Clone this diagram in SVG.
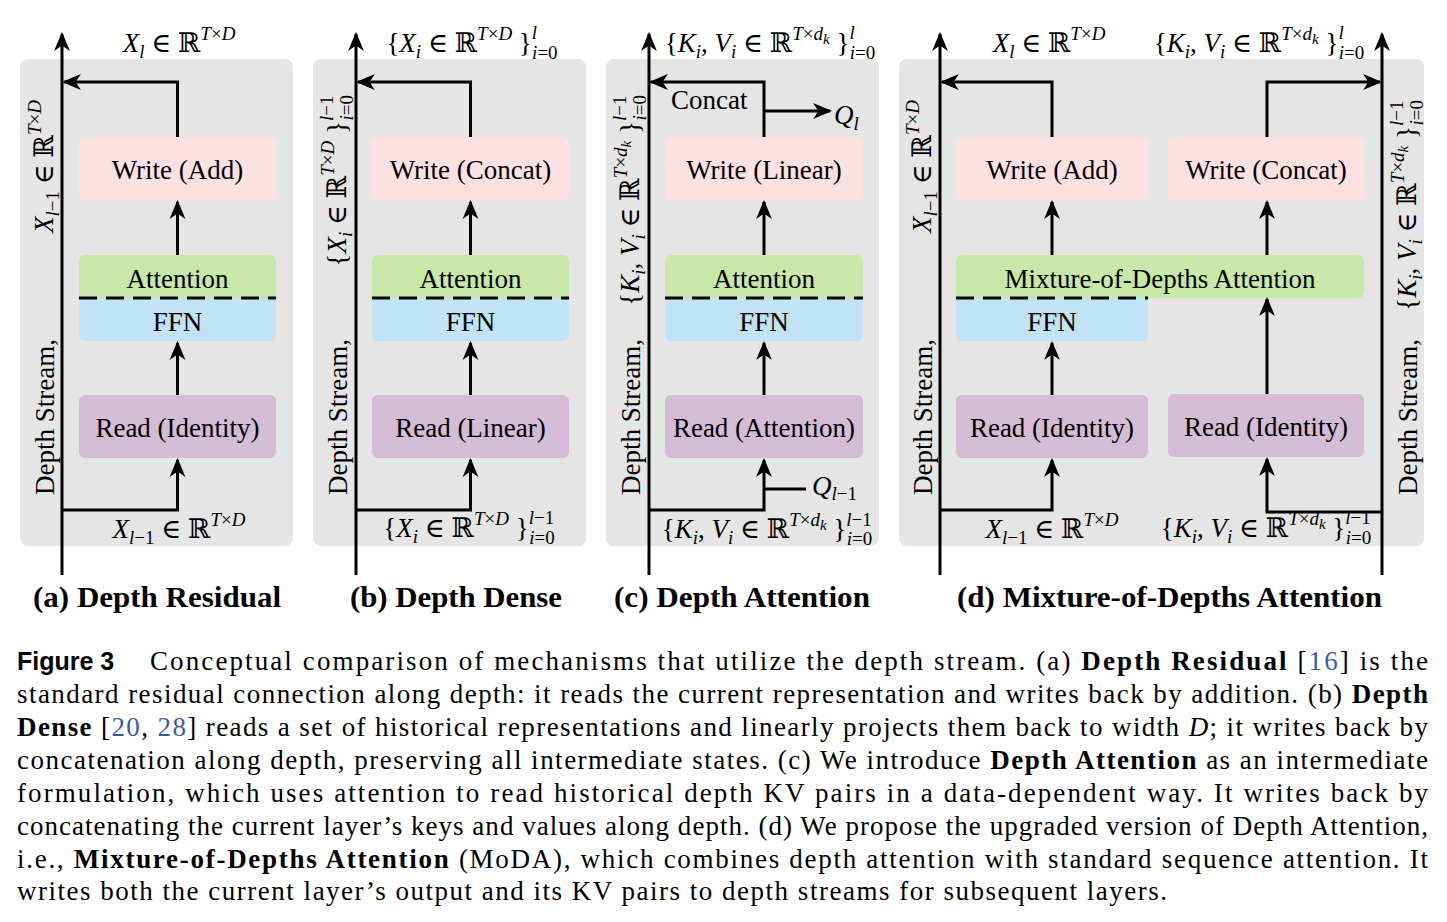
<svg xmlns="http://www.w3.org/2000/svg" width="1447" height="922" viewBox="0 0 1447 922">
<defs>
<style>
.bg{fill:#e5e5e5}
.pw{fill:#fde1e1}
.pa{fill:#c8e8a8}
.pf{fill:#c2e3f5}
.pr{fill:#d4bcd4}
.ln{stroke:#000;stroke-width:3;fill:none}
.dash{stroke:#000;stroke-width:3;stroke-dasharray:18 9;fill:none}
.bt{font-family:"Liberation Serif","Times New Roman",serif;font-size:27px;text-anchor:middle;fill:#000}
.lt{font-family:"Liberation Serif","Times New Roman",serif;font-size:27px;fill:#000}
.m{font-family:"Liberation Serif","DejaVu Serif",serif;font-size:27px;fill:#000}
.mid{text-anchor:middle}
.end{text-anchor:end}
.i{font-style:italic}
.s{font-size:19px}
.xs{font-size:15px}
.ttl{font-family:"Liberation Serif","Times New Roman",serif;font-weight:bold;font-size:30px;fill:#000}
.cap{font-family:"Liberation Serif","DejaVu Serif",serif;font-size:27px;fill:#000}
.b{font-weight:bold}
.cite{fill:#3a5ca8}
.fig{font-family:"Liberation Sans","DejaVu Sans",sans-serif;font-weight:bold;font-size:25px;fill:#000}
</style>
<marker id="ah" markerUnits="userSpaceOnUse" viewBox="0 0 18 18" markerWidth="19" markerHeight="19" refX="16" refY="9" orient="auto">
<path d="M0,1.5 L18,9 L0,16.5 L5,9 Z" fill="#000"/>
</marker>
</defs>
<rect width="1447" height="922" fill="#fff"/>

<g id="panels">
<rect class="bg" x="20" y="59" width="273" height="487" rx="8"/>
<rect class="bg" x="313" y="59" width="273" height="487" rx="8"/>
<rect class="bg" x="606" y="59" width="273" height="487" rx="8"/>
<rect class="bg" x="899" y="59" width="525" height="487" rx="8"/>
</g>

<!-- Panel (a) -->
<g id="a-write"><rect class="pw" x="79" y="137" width="197" height="63" rx="6"/><text class="bt" x="177.5" y="179">Write (Add)</text></g>
<g id="a-attn"><path class="pa" d="M79,298 V261 a6,6 0 0 1 6,-6 H270 a6,6 0 0 1 6,6 V298 Z"/><text class="bt" x="177.5" y="288">Attention</text></g>
<g id="a-ffn"><path class="pf" d="M79,298 H276 V335 a6,6 0 0 1 -6,6 H85 a6,6 0 0 1 -6,-6 Z"/><line class="dash" x1="79" y1="298" x2="276" y2="298"/><text class="bt" x="177.5" y="331">FFN</text></g>
<g id="a-read"><rect class="pr" x="79" y="395" width="197" height="63" rx="6"/><text class="bt" x="177.5" y="437">Read (Identity)</text></g>

<!-- Panel (b) -->
<g id="b-write"><rect class="pw" x="372" y="137" width="197" height="63" rx="6"/><text class="bt" x="470.5" y="179">Write (Concat)</text></g>
<g id="b-attn"><path class="pa" d="M372,298 V261 a6,6 0 0 1 6,-6 H563 a6,6 0 0 1 6,6 V298 Z"/><text class="bt" x="470.5" y="288">Attention</text></g>
<g id="b-ffn"><path class="pf" d="M372,298 H569 V335 a6,6 0 0 1 -6,6 H378 a6,6 0 0 1 -6,-6 Z"/><line class="dash" x1="372" y1="298" x2="569" y2="298"/><text class="bt" x="470.5" y="331">FFN</text></g>
<g id="b-read"><rect class="pr" x="372" y="395" width="197" height="63" rx="6"/><text class="bt" x="470.5" y="437">Read (Linear)</text></g>

<!-- Panel (c) -->
<g id="c-write"><rect class="pw" x="665" y="137" width="198" height="63" rx="6"/><text class="bt" x="764" y="179">Write (Linear)</text></g>
<g id="c-attn"><path class="pa" d="M665,298 V261 a6,6 0 0 1 6,-6 H857 a6,6 0 0 1 6,6 V298 Z"/><text class="bt" x="764" y="288">Attention</text></g>
<g id="c-ffn"><path class="pf" d="M665,298 H863 V335 a6,6 0 0 1 -6,6 H671 a6,6 0 0 1 -6,-6 Z"/><line class="dash" x1="665" y1="298" x2="863" y2="298"/><text class="bt" x="764" y="331">FFN</text></g>
<g id="c-read"><rect class="pr" x="665" y="395" width="198" height="63" rx="6"/><text class="bt" x="764" y="437">Read (Attention)</text></g>

<!-- Panel (d) -->
<g id="d-write-add"><rect class="pw" x="956" y="137" width="192" height="63" rx="6"/><text class="bt" x="1052" y="179">Write (Add)</text></g>
<g id="d-write-concat"><rect class="pw" x="1168" y="137" width="196" height="63" rx="6"/><text class="bt" x="1266" y="179">Write (Concat)</text></g>
<g id="d-moda"><path class="pa" d="M956,298 V261 a6,6 0 0 1 6,-6 H1358 a6,6 0 0 1 6,6 V292 a6,6 0 0 1 -6,6 Z"/><text class="bt" x="1160" y="288">Mixture-of-Depths Attention</text></g>
<g id="d-ffn"><path class="pf" d="M956,298 H1148 V335 a6,6 0 0 1 -6,6 H962 a6,6 0 0 1 -6,-6 Z"/><line class="dash" x1="956" y1="298" x2="1148" y2="298"/><text class="bt" x="1052" y="331">FFN</text></g>
<g id="d-read-l"><rect class="pr" x="956" y="395" width="192" height="63" rx="6"/><text class="bt" x="1052" y="437">Read (Identity)</text></g>
<g id="d-read-r"><rect class="pr" x="1168" y="394" width="196" height="63" rx="6"/><text class="bt" x="1266" y="436">Read (Identity)</text></g>

<g id="connectors" class="ln">
<path d="M62,575 V34" marker-end="url(#ah)"/>
<path d="M177.5,137 V82 H64" marker-end="url(#ah)"/>
<path d="M177.5,255 V202" marker-end="url(#ah)"/>
<path d="M177.5,395 V343" marker-end="url(#ah)"/>
<path d="M62,510 H177.5 V460" marker-end="url(#ah)"/>

<path d="M356,575 V34" marker-end="url(#ah)"/>
<path d="M470.5,137 V82 H358" marker-end="url(#ah)"/>
<path d="M470.5,255 V202" marker-end="url(#ah)"/>
<path d="M470.5,395 V343" marker-end="url(#ah)"/>
<path d="M356,510 H470.5 V460" marker-end="url(#ah)"/>

<path d="M649,575 V34" marker-end="url(#ah)"/>
<path d="M764,137 V82 H651" marker-end="url(#ah)"/>
<path d="M764,111 H830" marker-end="url(#ah)"/>
<path d="M764,255 V202" marker-end="url(#ah)"/>
<path d="M764,395 V343" marker-end="url(#ah)"/>
<path d="M649,510 H764 V460" marker-end="url(#ah)"/>
<path d="M764,489 H806"/>

<path d="M940,575 V34" marker-end="url(#ah)"/>
<path d="M1382,575 V34" marker-end="url(#ah)"/>
<path d="M1052,137 V82 H942" marker-end="url(#ah)"/>
<path d="M1267,137 V82 H1380" marker-end="url(#ah)"/>
<path d="M1052,255 V202" marker-end="url(#ah)"/>
<path d="M1267,255 V202" marker-end="url(#ah)"/>
<path d="M1052,395 V343" marker-end="url(#ah)"/>
<path d="M1267,394 V299" marker-end="url(#ah)"/>
<path d="M940,510 H1052 V460" marker-end="url(#ah)"/>
<path d="M1382,512 H1267 V459" marker-end="url(#ah)"/>
</g>

<g id="labels">
<!-- (a) -->
<text class="m mid" x="179" y="52"><tspan class="i">X</tspan><tspan class="s i" dy="6">l</tspan><tspan dy="-6"> ∈ ℝ</tspan><tspan class="s" dy="-12"><tspan class="i">T</tspan>×<tspan class="i">D</tspan></tspan></text>
<text class="m mid" x="179" y="538"><tspan class="i">X</tspan><tspan class="s" dy="6"><tspan class="i">l</tspan>−1</tspan><tspan dy="-6"> ∈ ℝ</tspan><tspan class="s" dy="-12"><tspan class="i">T</tspan>×<tspan class="i">D</tspan></tspan></text>
<text class="lt" transform="translate(54,495) rotate(-90)">Depth Stream,</text>
<text class="m end" transform="translate(53,100) rotate(-90)"><tspan class="i">X</tspan><tspan class="s" dy="6"><tspan class="i">l</tspan>−1</tspan><tspan dy="-6"> ∈ ℝ</tspan><tspan class="s" dy="-12"><tspan class="i">T</tspan>×<tspan class="i">D</tspan></tspan></text>

<!-- (b) -->
<text class="m mid" x="472" y="52">{<tspan class="i">X</tspan><tspan class="s i" dy="6">i</tspan><tspan dy="-6"> ∈ ℝ</tspan><tspan class="s" dy="-12"><tspan class="i">T</tspan>×<tspan class="i">D</tspan></tspan><tspan dy="12"> }</tspan><tspan class="s i" dy="-13">l</tspan><tspan class="s" dx="-5" dy="20"><tspan class="i">i</tspan>=0</tspan></text>
<text class="m mid" x="469" y="537">{<tspan class="i">X</tspan><tspan class="s i" dy="6">i</tspan><tspan dy="-6"> ∈ ℝ</tspan><tspan class="s" dy="-12"><tspan class="i">T</tspan>×<tspan class="i">D</tspan></tspan><tspan dy="12"> }</tspan><tspan class="s" dy="-13"><tspan class="i">l</tspan>−1</tspan><tspan class="s" dx="-25" dy="20"><tspan class="i">i</tspan>=0</tspan></text>
<text class="lt" transform="translate(347,495) rotate(-90)">Depth Stream,</text>
<text class="m end" transform="translate(346,95) rotate(-90)">{<tspan class="i">X</tspan><tspan class="s i" dy="6">i</tspan><tspan dy="-6"> ∈ ℝ</tspan><tspan class="s" dy="-12"><tspan class="i">T</tspan>×<tspan class="i">D</tspan></tspan><tspan dy="12"> }</tspan><tspan class="s" dy="-13"><tspan class="i">l</tspan>−1</tspan><tspan class="s" dx="-25" dy="20"><tspan class="i">i</tspan>=0</tspan></text>

<!-- (c) -->
<text class="m mid" x="770" y="52">{<tspan class="i">K</tspan><tspan class="s i" dy="6">i</tspan><tspan dy="-6">, </tspan><tspan class="i">V</tspan><tspan class="s i" dy="6">i</tspan><tspan dy="-6"> ∈ ℝ</tspan><tspan class="s" dy="-12"><tspan class="i">T</tspan>×<tspan class="i">d</tspan></tspan><tspan class="xs i" dy="4">k</tspan><tspan dy="8"> }</tspan><tspan class="s i" dy="-13">l</tspan><tspan class="s" dx="-5" dy="20"><tspan class="i">i</tspan>=0</tspan></text>
<text class="lt" x="671" y="109">Concat</text>
<text class="m" x="834" y="124"><tspan class="i">Q</tspan><tspan class="s i" dy="6">l</tspan></text>
<text class="m" x="812" y="495"><tspan class="i">Q</tspan><tspan class="s" dy="5"><tspan class="i">l</tspan>−1</tspan></text>
<text class="m mid" x="767" y="538">{<tspan class="i">K</tspan><tspan class="s i" dy="6">i</tspan><tspan dy="-6">, </tspan><tspan class="i">V</tspan><tspan class="s i" dy="6">i</tspan><tspan dy="-6"> ∈ ℝ</tspan><tspan class="s" dy="-12"><tspan class="i">T</tspan>×<tspan class="i">d</tspan></tspan><tspan class="xs i" dy="4">k</tspan><tspan dy="8"> }</tspan><tspan class="s" dy="-12"><tspan class="i">l</tspan>−1</tspan><tspan class="s" dx="-25" dy="19"><tspan class="i">i</tspan>=0</tspan></text>
<text class="lt" transform="translate(640,495) rotate(-90)">Depth Stream,</text>
<text class="m end" transform="translate(639,95) rotate(-90)">{<tspan class="i">K</tspan><tspan class="s i" dy="6">i</tspan><tspan dy="-6">, </tspan><tspan class="i">V</tspan><tspan class="s i" dy="6">i</tspan><tspan dy="-6"> ∈ ℝ</tspan><tspan class="s" dy="-12"><tspan class="i">T</tspan>×<tspan class="i">d</tspan></tspan><tspan class="xs i" dy="4">k</tspan><tspan dy="8"> }</tspan><tspan class="s" dy="-13"><tspan class="i">l</tspan>−1</tspan><tspan class="s" dx="-25" dy="20"><tspan class="i">i</tspan>=0</tspan></text>

<!-- (d) -->
<text class="m mid" x="1049" y="52"><tspan class="i">X</tspan><tspan class="s i" dy="6">l</tspan><tspan dy="-6"> ∈ ℝ</tspan><tspan class="s" dy="-12"><tspan class="i">T</tspan>×<tspan class="i">D</tspan></tspan></text>
<text class="m mid" x="1259" y="52">{<tspan class="i">K</tspan><tspan class="s i" dy="6">i</tspan><tspan dy="-6">, </tspan><tspan class="i">V</tspan><tspan class="s i" dy="6">i</tspan><tspan dy="-6"> ∈ ℝ</tspan><tspan class="s" dy="-12"><tspan class="i">T</tspan>×<tspan class="i">d</tspan></tspan><tspan class="xs i" dy="4">k</tspan><tspan dy="8"> }</tspan><tspan class="s i" dy="-13">l</tspan><tspan class="s" dx="-5" dy="20"><tspan class="i">i</tspan>=0</tspan></text>
<text class="m mid" x="1052" y="538"><tspan class="i">X</tspan><tspan class="s" dy="6"><tspan class="i">l</tspan>−1</tspan><tspan dy="-6"> ∈ ℝ</tspan><tspan class="s" dy="-12"><tspan class="i">T</tspan>×<tspan class="i">D</tspan></tspan></text>
<text class="m mid" x="1266" y="537">{<tspan class="i">K</tspan><tspan class="s i" dy="6">i</tspan><tspan dy="-6">, </tspan><tspan class="i">V</tspan><tspan class="s i" dy="6">i</tspan><tspan dy="-6"> ∈ ℝ</tspan><tspan class="s" dy="-12"><tspan class="i">T</tspan>×<tspan class="i">d</tspan></tspan><tspan class="xs i" dy="4">k</tspan><tspan dy="8"> }</tspan><tspan class="s" dy="-13"><tspan class="i">l</tspan>−1</tspan><tspan class="s" dx="-25" dy="20"><tspan class="i">i</tspan>=0</tspan></text>
<text class="lt" transform="translate(932,495) rotate(-90)">Depth Stream,</text>
<text class="m end" transform="translate(931,100) rotate(-90)"><tspan class="i">X</tspan><tspan class="s" dy="6"><tspan class="i">l</tspan>−1</tspan><tspan dy="-6"> ∈ ℝ</tspan><tspan class="s" dy="-12"><tspan class="i">T</tspan>×<tspan class="i">D</tspan></tspan></text>
<text class="lt" transform="translate(1417,495) rotate(-90)">Depth Stream,</text>
<text class="m end" transform="translate(1416,100) rotate(-90)">{<tspan class="i">K</tspan><tspan class="s i" dy="6">i</tspan><tspan dy="-6">, </tspan><tspan class="i">V</tspan><tspan class="s i" dy="6">i</tspan><tspan dy="-6"> ∈ ℝ</tspan><tspan class="s" dy="-12"><tspan class="i">T</tspan>×<tspan class="i">d</tspan></tspan><tspan class="xs i" dy="4">k</tspan><tspan dy="8"> }</tspan><tspan class="s" dy="-13"><tspan class="i">l</tspan>−1</tspan><tspan class="s" dx="-25" dy="20"><tspan class="i">i</tspan>=0</tspan></text>
</g>

<g id="titles">
<text class="ttl" x="33" y="607" textLength="248" lengthAdjust="spacingAndGlyphs">(a) Depth Residual</text>
<text class="ttl" x="350" y="607" textLength="212" lengthAdjust="spacingAndGlyphs">(b) Depth Dense</text>
<text class="ttl" x="614" y="607" textLength="256" lengthAdjust="spacingAndGlyphs">(c) Depth Attention</text>
<text class="ttl" x="957" y="607" textLength="425" lengthAdjust="spacingAndGlyphs">(d) Mixture-of-Depths Attention</text>
</g>

<g id="caption">
<text class="fig" x="17" y="670">Figure 3</text>
<text class="cap" x="150" y="670" textLength="1278" lengthAdjust="spacing">Conceptual comparison of mechanisms that utilize the depth stream. (a) <tspan class="b">Depth Residual</tspan> [<tspan class="cite">16</tspan>] is the</text>
<text class="cap" x="17" y="703" textLength="1411" lengthAdjust="spacing">standard residual connection along depth: it reads the current representation and writes back by addition. (b) <tspan class="b">Depth</tspan></text>
<text class="cap" x="17" y="736" textLength="1411" lengthAdjust="spacing"><tspan class="b">Dense</tspan> [<tspan class="cite">20</tspan>, <tspan class="cite">28</tspan>] reads a set of historical representations and linearly projects them back to width <tspan class="i">D</tspan>; it writes back by</text>
<text class="cap" x="17" y="769" textLength="1411" lengthAdjust="spacing">concatenation along depth, preserving all intermediate states. (c) We introduce <tspan class="b">Depth Attention</tspan> as an intermediate</text>
<text class="cap" x="17" y="802" textLength="1411" lengthAdjust="spacing">formulation, which uses attention to read historical depth KV pairs in a data-dependent way. It writes back by</text>
<text class="cap" x="17" y="835" textLength="1411" lengthAdjust="spacing">concatenating the current layer’s keys and values along depth. (d) We propose the upgraded version of Depth Attention,</text>
<text class="cap" x="17" y="868" textLength="1411" lengthAdjust="spacing">i.e., <tspan class="b">Mixture-of-Depths Attention</tspan> (MoDA), which combines depth attention with standard sequence attention. It</text>
<text class="cap" x="17" y="900" textLength="1150" lengthAdjust="spacing">writes both the current layer’s output and its KV pairs to depth streams for subsequent layers.</text>
</g>
</svg>
